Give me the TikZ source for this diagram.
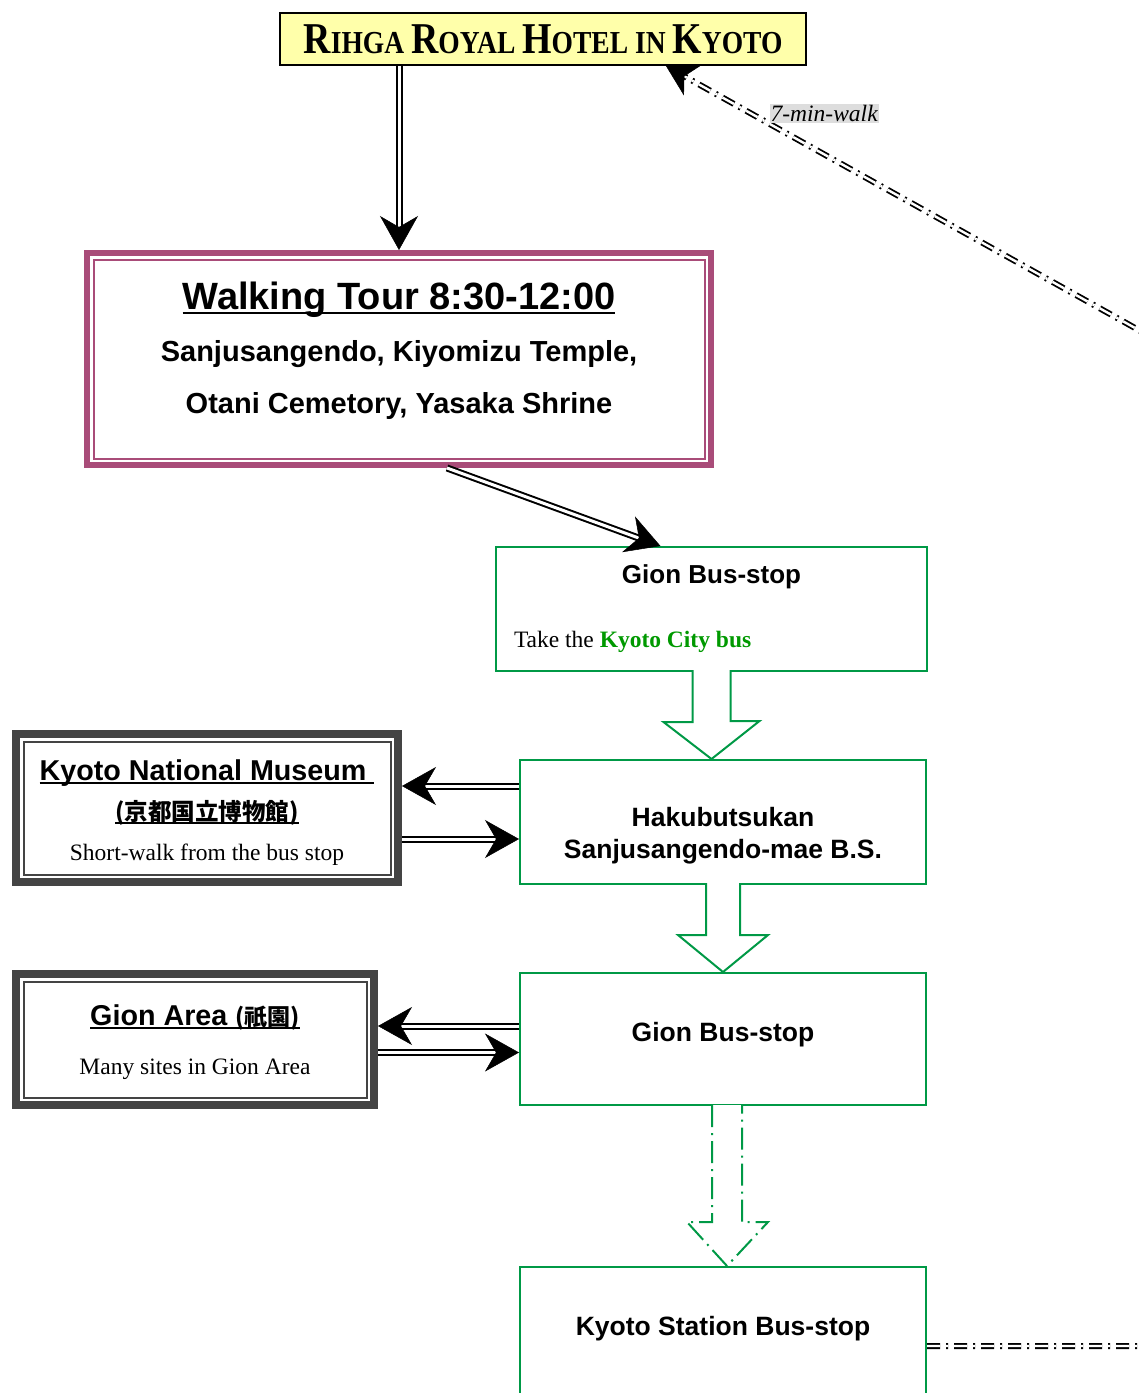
\documentclass[tikz,border=0pt]{standalone}
\usepackage{fontspec}
\usepackage{graphicx}
\setmainfont{Liberation Serif}
\setsansfont{Liberation Sans}
\newfontfamily\cjk{Noto Sans CJK JP}
\usetikzlibrary{arrows.meta}

\definecolor{hotelyellow}{HTML}{FFFFAA}
\definecolor{tourpink}{HTML}{A94C79}
\definecolor{busgreen}{HTML}{009946}
\definecolor{citygreen}{HTML}{009900}
\definecolor{framegray}{HTML}{444444}
\definecolor{labelgray}{HTML}{DDDDDD}

\newsavebox\rulebox
\newcommand\underrule[1]{\sbox\rulebox{#1}\rlap{\rule[-4pt]{\wd\rulebox}{2pt}}\usebox\rulebox}
\newcommand\capletter[1]{{\fontsize{44}{44}\selectfont #1}}

\tikzset{
  hotelbox/.style={draw, line width=2pt, fill=hotelyellow, minimum width=526pt, minimum height=52pt,
    font=\bfseries\fontsize{32}{44}\selectfont},
  tourbox/.style={draw=tourpink, line width=6pt, minimum width=624pt, minimum height=212pt, align=center,
    font=\sffamily\bfseries\fontsize{29}{52}\selectfont},
  busbox/.style={draw=busgreen, line width=2pt, minimum width=406pt, minimum height=124pt,
    font=\sffamily\bfseries\fontsize{26.5}{32}\selectfont},
  sightbox/.style={draw=framegray, line width=8pt, align=center,
    font=\sffamily\bfseries\fontsize{28.7}{40}\selectfont},
  pipe/.style={draw, line width=2pt, double=white, double distance=3pt,
    -{Stealth[length=34pt, width=38pt, inset=11pt, line width=0.5pt]}},
  busarrow/.style={draw=busgreen, line width=2pt, fill=white, line join=miter},
  walkline/.style={draw, line width=1.8pt, double=white, double distance=2.4pt,
    dash pattern=on 13pt off 6pt on 2pt off 6pt,
    -{Stealth[length=30pt, width=34pt, inset=9pt, line width=0.5pt]}},
  timetag/.style={fill=labelgray, inner sep=1pt, font=\itshape\fontsize{23.5}{28}\selectfont}
}

\begin{document}
\begin{tikzpicture}[x=1pt, y=-1pt]
\useasboundingbox (0,0) rectangle (1139,1393);
\clip (0,0) rectangle (1139,1393);

\node[hotelbox] (hotel) at (543,39)
  {\scalebox{0.86}[1]{\capletter{R}IHGA \capletter{R}OYAL \capletter{H}OTEL IN \capletter{K}YOTO}};

\node[tourbox] (walk) at (399,359)
  {\underrule{\fontsize{38}{52}\selectfont Walking Tour 8:30-12:00}\\
   Sanjusangendo, Kiyomizu Temple,\\
   Otani Cemetory, Yasaka Shrine\rule[-22pt]{0pt}{22pt}};

\node[busbox, minimum width=431pt, align=center] (gion) at (711.5,609)
  {\fontsize{26}{32}\selectfont Gion Bus-stop\\[32pt]
   \makebox[395pt][l]{\rmfamily\mdseries\fontsize{23.5}{32}\selectfont Take the \textbf{\color{citygreen}Kyoto City bus}}};

\node[busbox, align=center] (haku) at (723,822)
  {\rule{0pt}{46pt}Hakubutsukan\\Sanjusangendo-mae B.S.};

\node[sightbox, minimum width=382pt, minimum height=148pt] (museum) at (207,808)
  {\rule{0pt}{29pt}\underrule{Kyoto National Museum\ }\\
   \underrule{\cjk\fontsize{23.5}{40}\selectfont (京都国立博物館)}\\
   {\rmfamily\mdseries\fontsize{23.5}{40}\selectfont Short-walk from the bus stop}};

\node[busbox, minimum height=132pt] (gion2) at (723,1039)
  {Gion Bus-stop\rule[-15pt]{0pt}{15pt}};

\node[sightbox, minimum width=358pt, minimum height=131pt, font=\sffamily\bfseries\fontsize{28.7}{49}\selectfont] (gionarea) at (195,1039.5)
  {\rule{0pt}{26pt}\underrule{Gion Area {\cjk\fontsize{23}{49}\selectfont (祇園)}}\\
   {\rmfamily\mdseries\fontsize{23.5}{49}\selectfont Many sites in Gion Area}};

\node[busbox, anchor=north, minimum height=0pt, inner sep=0pt, text height=68pt, text depth=90pt] (station) at (723,1266)
  {Kyoto Station Bus-stop};

\foreach \n/\c/\d in {walk/tourpink/9.5, museum/framegray/11.5, gionarea/framegray/11.5}
  \draw[\c, line width=2pt] ([shift={(\d,\d)}]\n.north west) rectangle ([shift={(-\d,-\d)}]\n.south east);

\draw[pipe] (hotel.south -| walk.north) -- (walk.north);
\draw[pipe] ([shift={(48,0)}]walk.south) -- ([shift={(-51,0)}]gion.north);
\draw[pipe] ([shift={(0,-36)}]haku.west) -- ([shift={(0,-36)}]haku.west -| museum.east);
\draw[pipe] ([shift={(0,31)}]museum.east) -- ([shift={(0,31)}]museum.east -| haku.west);
\draw[pipe] ([shift={(0,-13)}]gion2.west) -- ([shift={(0,-13)}]gion2.west -| gionarea.east);
\draw[pipe] ([shift={(0,13)}]gionarea.east) -- ([shift={(0,13)}]gionarea.east -| gion2.west);

\draw[busarrow] ([shift={(-19,-2)}]gion.south) -- ++(0,52) -- ++(-29,0) -- (gion.south |- haku.north)
  -- ++(48,-38) -- ++(-29,0) -- ([shift={(19,-2)}]gion.south);
\draw[busarrow] ([shift={(-17,-2)}]haku.south) -- ++(0,52) -- ++(-28,0) -- (haku.south |- gion2.north)
  -- ++(45,-37) -- ++(-28,0) -- ([shift={(17,-2)}]haku.south);
\draw[busarrow, dash pattern=on 22pt off 6pt on 2pt off 6pt] ([shift={(-11,-1)}]gion2.south) -- ++(0,117) -- ++(-25,0)
  -- ([shift={(4,0)}]gion2.south |- station.north) -- ++(41,-44) -- ++(-26,0) -- ([shift={(19,-1)}]gion2.south);

\coordinate (farright) at (1400,1346);
\coordinate (farup) at (1400,476);
\draw[walkline] (station.east) -- (farright) -- (farup)
  -- node[timetag, pos=0.86, anchor=south west] (walklabel) {7-min-walk} ([shift={(123,0)}]hotel.south);
\end{tikzpicture}
\end{document}
